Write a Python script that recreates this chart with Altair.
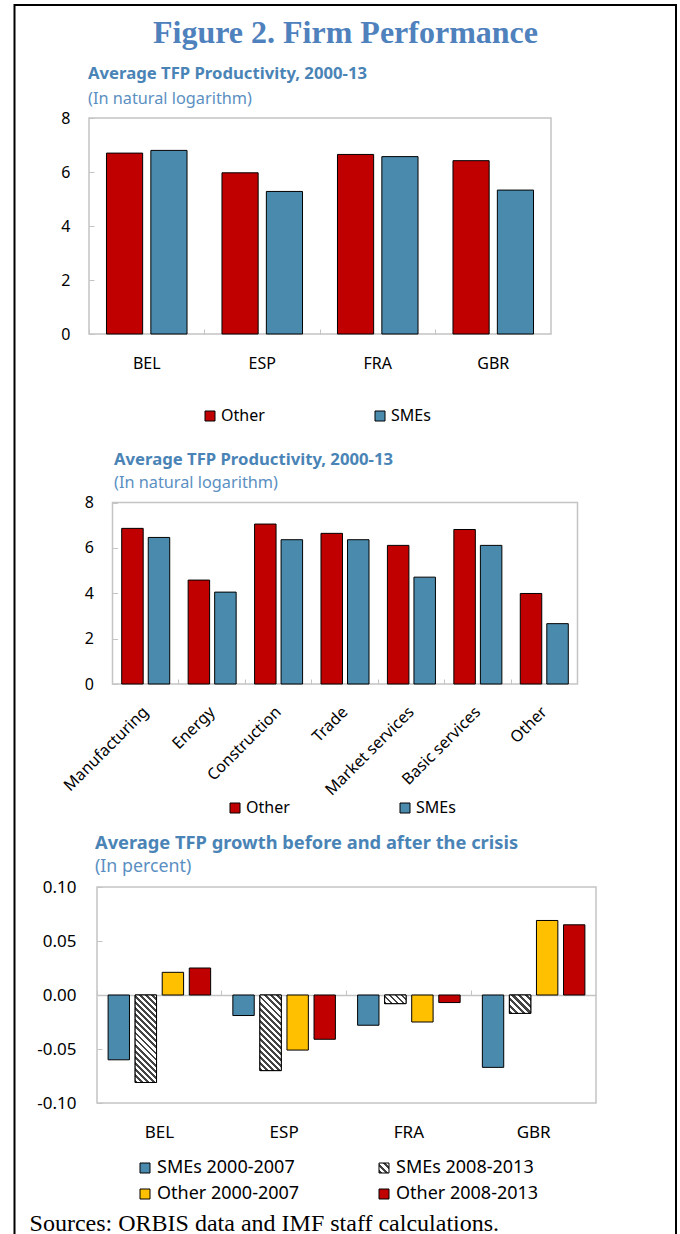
import json

import altair as alt
import pandas as pd

# ---------------------------------------------------------------- data
COUNTRIES = ["BEL", "ESP", "FRA", "GBR"]
FIRM_GROUPS = ["Other", "SMEs"]
TFP_OTHER = [6.70, 5.97, 6.65, 6.42]
TFP_SMES = [6.80, 5.28, 6.57, 5.33]

SECTORS = ["Manufacturing", "Energy", "Construction", "Trade",
           "Market services", "Basic services", "Other"]
SECTOR_TFP_OTHER = [6.86, 4.58, 7.05, 6.64, 6.11, 6.81, 3.99]
SECTOR_TFP_SMES = [6.46, 4.05, 6.36, 6.36, 4.71, 6.11, 2.66]

PERIODS = ["SMEs 2000-2007", "SMEs 2008-2013", "Other 2000-2007", "Other 2008-2013"]
GROWTH_SMES_PRE = [-0.060, -0.019, -0.028, -0.067]
GROWTH_SMES_POST = [-0.081, -0.070, -0.008, -0.017]
GROWTH_OTHER_PRE = [0.021, -0.051, -0.025, 0.069]
GROWTH_OTHER_POST = [0.025, -0.041, -0.007, 0.065]
HATCHED_PERIOD = "SMEs 2008-2013"

TFP_TICKS = [0, 2, 4, 6, 8]
GROWTH_TICKS = [-0.10, -0.05, 0.0, 0.05, 0.10]

TITLE = "Figure 2. Firm Performance"
SUB_LEVEL = "Average TFP Productivity, 2000-13"
UNIT_LEVEL = "(In natural logarithm)"
SUB_GROWTH = "Average TFP growth before and after the crisis"
UNIT_GROWTH = "(In percent)"
SOURCES = "Sources: ORBIS data and IMF staff calculations."

# ---------------------------------------------------------------- style
RED = "#c00000"
BLUE = "#4a8bad"
GOLD = "#ffc000"
HATCH_DARK = "#444444"
FRAME_GRAY = "#c4c4c4"
TITLE_BLUE = "#4f81bd"
SUB_BLUE = "#4a84b6"
UNIT_BLUE = "#5b8fc2"
SANS = "Noto Sans"
SERIF = "Liberation Serif"

# page layout (the view covers the whole page)
W, H = 680, 1234
BOX1 = {"left": 89, "right": 551, "top": 118, "bottom": 334}
BOX2 = {"left": 112.5, "right": 577.5, "top": 502.5, "bottom": 684}
BOX3 = {"left": 97, "right": 596, "top": 887, "bottom": 1103}
PAD1 = (0.185, 0.394)   # (paddingInner, paddingOuter) of the bars inside a group
PAD2 = (0.19, 0.347)
PAD3 = (0.21, 0.41)
HATCH_PERIOD = 6.2
HATCH_DARK_SHARE = 0.48


# ---------------------------------------------------------------- helpers
def x_scale(cats, box):
    return alt.Scale(domain=cats, range=[box["left"], box["right"]],
                     paddingInner=0, paddingOuter=0)


def y_scale(dom, box):
    return alt.Scale(domain=dom, range=[box["bottom"], box["top"]], nice=False, zero=False)


def offset_scale(series, pad):
    return alt.Scale(domain=series, paddingInner=pad[0], paddingOuter=pad[1])


def stripes(w, h, period=HATCH_PERIOD):
    """Diagonal black/white stripes as a linear gradient over a w x h box."""
    n = max(1, round((w + h) / period))
    k = (w + h) / (w * w + h * h)
    stops = []
    for i in range(n):
        a, m, b = i / n, (i + HATCH_DARK_SHARE) / n, (i + 1) / n
        stops += [
            {"offset": round(a, 4), "color": HATCH_DARK},
            {"offset": round(m, 4), "color": HATCH_DARK},
            {"offset": round(m, 4), "color": "#ffffff"},
            {"offset": round(b, 4), "color": "#ffffff"},
        ]
    return {"gradient": "linear", "x1": 0, "y1": 1,
            "x2": round(w * k, 4), "y2": round(1 - h * k, 4), "stops": stops}


def text_layer(text, x, y, size, color, font=SANS, weight="normal", align="left"):
    return alt.Chart(pd.DataFrame({"text": [text]})).mark_text(
        font=font, fontSize=size, fontWeight=weight, color=color,
        align=align, baseline="alphabetic",
    ).encode(x=alt.value(x), y=alt.value(y), text="text:N")


def frame_layer(box, color=FRAME_GRAY, width=1.5):
    return alt.Chart(pd.DataFrame({"frame": [1]})).mark_rect(
        fill="transparent", stroke=color, strokeWidth=width,
    ).encode(x=alt.value(box["left"]), x2=alt.value(box["right"]),
             y=alt.value(box["top"]), y2=alt.value(box["bottom"]))


def tick_layer(data, cat, cats, ser, series, val, box, ydom, yticks, pad, tick_y, domain):
    """Invisible copy of the bars carrying the short inward ticks."""
    return alt.Chart(data).mark_bar(opacity=0).encode(
        x=alt.X(f"{cat}:N", scale=x_scale(cats, box),
                axis=alt.Axis(orient="top", offset=-tick_y, labels=False, title=None,
                              domain=domain, domainColor=FRAME_GRAY, domainWidth=1.5,
                              ticks=True, tickSize=5, tickColor=FRAME_GRAY,
                              tickWidth=1, bandPosition=0, grid=False)),
        xOffset=alt.XOffset(f"{ser}:N", scale=offset_scale(series, pad)),
        y=alt.Y(f"{val}:Q", scale=y_scale(ydom, box),
                axis=alt.Axis(orient="right", offset=box["left"] - W, labels=False,
                              title=None, domain=False, ticks=True, tickSize=5,
                              tickColor=FRAME_GRAY, tickWidth=1, values=yticks,
                              grid=False)),
    )


def level_panel(data, cat, cats, box, pad, label_size, x_axis_extra, legend_xy):
    x_axis = dict(orient="bottom", offset=box["bottom"] - H, title=None, domain=False,
                  ticks=False, grid=False, labelFont=SANS, labelFontSize=label_size,
                  labelColor="black", labelOverlap=False)
    x_axis.update(x_axis_extra)
    bars = alt.Chart(data).mark_bar(stroke="black", strokeWidth=1).encode(
        x=alt.X(f"{cat}:N", scale=x_scale(cats, box), axis=alt.Axis(**x_axis)),
        xOffset=alt.XOffset("group:N", scale=offset_scale(FIRM_GROUPS, pad)),
        y=alt.Y("tfp:Q", scale=y_scale([0, 8], box),
                axis=alt.Axis(orient="left", offset=-box["left"], values=TFP_TICKS,
                              title=None, domain=False, ticks=False, grid=False,
                              labelPadding=19, labelFont=SANS,
                              labelFontSize=label_size, labelColor="black")),
        fill=alt.Fill("group:N",
                      scale=alt.Scale(domain=FIRM_GROUPS, range=[RED, BLUE]),
                      legend=alt.Legend(orient="none", legendX=legend_xy[0],
                                        legendY=legend_xy[1], direction="horizontal",
                                        title=None, symbolType="square",
                                        symbolSize=100, symbolStrokeColor="black",
                                        symbolStrokeWidth=1, labelFont=SANS,
                                        labelFontSize=label_size, labelColor="black",
                                        labelOffset=3, columnPadding=107,
                                        gridAlign="all", padding=0)),
    )
    ticks = tick_layer(data, cat, cats, "group", FIRM_GROUPS, "tfp", box, [0, 8],
                       TFP_TICKS, pad, box["bottom"], False)
    return [frame_layer(box), ticks, bars]


# ---------------------------------------------------------------- tables
country_tfp = pd.DataFrame({
    "country": COUNTRIES * 2,
    "group": ["Other"] * len(COUNTRIES) + ["SMEs"] * len(COUNTRIES),
    "tfp": TFP_OTHER + TFP_SMES,
})

sector_tfp = pd.DataFrame({
    "sector": SECTORS * 2,
    "group": ["Other"] * len(SECTORS) + ["SMEs"] * len(SECTORS),
    "tfp": SECTOR_TFP_OTHER + SECTOR_TFP_SMES,
})

growth_series = [GROWTH_SMES_PRE, GROWTH_SMES_POST, GROWTH_OTHER_PRE, GROWTH_OTHER_POST]
growth = pd.DataFrame({
    "country": [c for _ in PERIODS for c in COUNTRIES],
    "period": [p for p in PERIODS for _ in COUNTRIES],
    "growth": [v for s in growth_series for v in s],
})

# pixel size of one growth bar, used to keep the hatch spacing even
band3 = (BOX3["right"] - BOX3["left"]) / len(COUNTRIES)
step3 = band3 / (len(PERIODS) - PAD3[0] + 2 * PAD3[1])
bar_w3 = step3 * (1 - PAD3[0])
px_per_unit3 = (BOX3["bottom"] - BOX3["top"]) / (GROWTH_TICKS[-1] - GROWTH_TICKS[0])

hatched_records = [
    {"country": c, "period": HATCHED_PERIOD, "growth": v,
     "hatch": stripes(bar_w3, abs(v) * px_per_unit3)}
    for c, v in zip(COUNTRIES, GROWTH_SMES_POST)
]

# ---------------------------------------------------------------- panels
layers = []

# outer figure border (its bottom edge runs past the page)
layers.append(frame_layer({"left": 14.5, "right": 676, "top": 5, "bottom": 1270},
                          color="black", width=2))

layers.append(text_layer(TITLE, 345.5, 43, 32, TITLE_BLUE, font=SERIF,
                         weight="bold", align="center"))

# panel 1: by country
layers.append(text_layer(SUB_LEVEL, 88, 79, 16.7, SUB_BLUE, weight="bold"))
layers.append(text_layer(UNIT_LEVEL, 88, 103.5, 16.3, UNIT_BLUE))
layers += level_panel(country_tfp, "country", COUNTRIES, BOX1, PAD1, 16,
                      {"labelAngle": 0, "labelPadding": 21}, (202, 408))

# panel 2: by sector
layers.append(text_layer(SUB_LEVEL, 114, 464.5, 16.7, SUB_BLUE, weight="bold"))
layers.append(text_layer(UNIT_LEVEL, 114, 487.5, 16.3, UNIT_BLUE))
layers += level_panel(sector_tfp, "sector", SECTORS, BOX2, PAD2, 16,
                      {"labelAngle": -45, "labelAlign": "right",
                       "labelBaseline": "middle", "labelPadding": 25},
                      (227, 800))

# panel 3: growth before / after the crisis
layers.append(text_layer(SUB_GROWTH, 95, 848.5, 18.3, SUB_BLUE, weight="bold"))
layers.append(text_layer(UNIT_GROWTH, 95, 871.5, 17.8, UNIT_BLUE))
layers.append(frame_layer(BOX3))

growth_y = y_scale([GROWTH_TICKS[0], GROWTH_TICKS[-1]], BOX3)
zero_y = BOX3["bottom"] - (0 - GROWTH_TICKS[0]) * px_per_unit3
layers.append(tick_layer(growth, "country", COUNTRIES, "period", PERIODS, "growth",
                         BOX3, [GROWTH_TICKS[0], GROWTH_TICKS[-1]], GROWTH_TICKS,
                         PAD3, zero_y, True))

legend_swatch = stripes(10, 10)
growth_bars = alt.Chart(growth).mark_bar(stroke="black", strokeWidth=1).encode(
    x=alt.X("country:N", scale=x_scale(COUNTRIES, BOX3),
            axis=alt.Axis(orient="bottom", offset=BOX3["bottom"] - H, title=None,
                          domain=False, ticks=False, grid=False, labelAngle=0,
                          labelPadding=21, labelFont=SANS, labelFontSize=17,
                          labelColor="black", labelOverlap=False)),
    xOffset=alt.XOffset("period:N", scale=offset_scale(PERIODS, PAD3)),
    y=alt.Y("growth:Q", scale=growth_y,
            axis=alt.Axis(orient="left", offset=-BOX3["left"], values=GROWTH_TICKS,
                          labelExpr="(datum.value < 0 ? '-' : '') + format(abs(datum.value), '.2f')",
                          title=None, domain=False, ticks=False, grid=False,
                          labelPadding=21, labelFont=SANS, labelFontSize=17,
                          labelColor="black")),
    fill=alt.Fill("period:N",
                  scale=alt.Scale(domain=PERIODS,
                                  range=[BLUE, alt.ExprRef(json.dumps(legend_swatch)),
                                         GOLD, RED]),
                  legend=alt.Legend(orient="none", legendX=136, legendY=1159,
                                    direction="horizontal", columns=2, title=None,
                                    symbolType="square", symbolSize=100,
                                    symbolStrokeColor="black", symbolStrokeWidth=1,
                                    labelFont=SANS, labelFontSize=18,
                                    labelColor="black", labelOffset=3, labelLimit=300,
                                    columnPadding=75, rowPadding=8,
                                    gridAlign="all", padding=0)),
)
layers.append(growth_bars)

hatched_bars = alt.Chart(alt.Data(values=hatched_records)).mark_bar(
    stroke="black", strokeWidth=1
).encode(
    x=alt.X("country:N", scale=x_scale(COUNTRIES, BOX3), axis=None),
    xOffset=alt.XOffset("period:N", scale=offset_scale(PERIODS, PAD3)),
    y=alt.Y("growth:Q", scale=growth_y, axis=None),
    fill=alt.Fill("hatch:N", scale=None, legend=None),
)
layers.append(hatched_bars)

layers.append(text_layer(SOURCES, 29.6, 1230.5, 24, "black", font=SERIF))

chart = (
    alt.layer(*layers)
    .resolve_scale(x="independent", y="independent", xOffset="independent",
                   fill="independent")
    .resolve_axis(x="independent", y="independent")
    .resolve_legend(fill="independent")
    .properties(width=W, height=H, padding=0,
                autosize=alt.AutoSizeParams(type="none"))
    .configure(background="white")
    .configure_view(stroke="transparent")
)

chart.save("out.html", embed_options={"renderer": "svg", "actions": False})
